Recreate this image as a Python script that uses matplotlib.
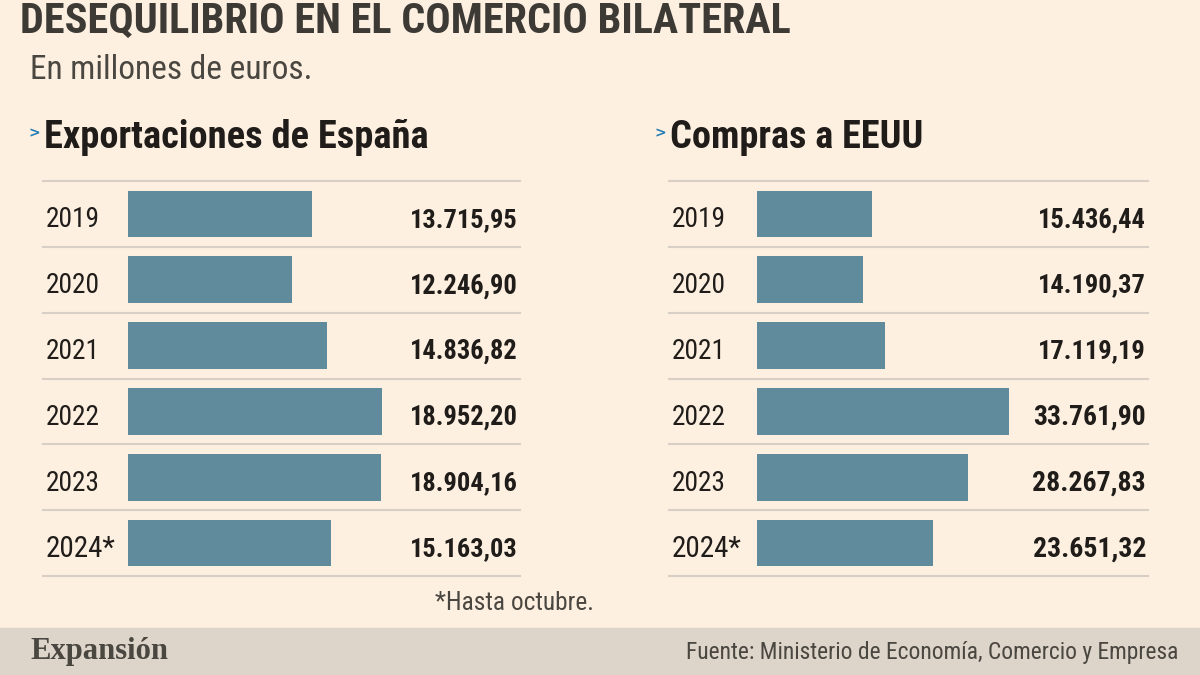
import matplotlib.pyplot as plt
from matplotlib.lines import Line2D
from matplotlib import font_manager

# data
years = ["2019", "2020", "2021", "2022", "2023", "2024*"]
exportaciones = [13715.95, 12246.90, 14836.82, 18952.20, 18904.16, 15163.03]
compras = [15436.44, 14190.37, 17119.19, 33761.90, 28267.83, 23651.32]


def fmt_es(v):
    s = f"{v:,.2f}"
    return s.replace(",", "X").replace(".", ",").replace("X", ".")


names = {f.name for f in font_manager.fontManager.ttflist}
narrow_opts = [n for n in ["Liberation Sans Narrow", "DejaVu Sans Condensed",
                           "Roboto Condensed", "Open Sans Condensed", "Noto Sans Condensed"]
               if n in names]
NARROW = narrow_opts[0] if narrow_opts else ("Roboto" if "Roboto" in names else "DejaVu Sans")
BODY = "Roboto" if "Roboto" in names else "DejaVu Sans"

BG = "#fdf0e1"
FOOT = "#ddd4ca"
BAR = "#5f8b9d"
DARK = "#1f1c19"
GREY = "#4a4640"
SEP = "#d8d0c6"
BLUE = "#1f7bb5"

W, H = 1200, 675
fig = plt.figure(figsize=(12, 6.75), dpi=100, facecolor=BG)
renderer = fig.canvas.get_renderer()


def fx(px):
    return px / W


def fy(py):
    return 1 - py / H


def fit(t, width_px):
    # shrink/grow the font so the text spans the width seen in the picture
    w = t.get_window_extent(renderer).width
    t.set_fontsize(t.get_fontsize() * width_px / w)
    return t


# header
fit(fig.text(fx(20), fy(33), "DESEQUILIBRIO EN EL COMERCIO BILATERAL", family=NARROW,
             weight="bold", fontsize=30, color="#3d3a35", ha="left", va="baseline"), 770)
fit(fig.text(fx(30), fy(70), "En millones de euros.", family=NARROW, weight="normal",
             fontsize=19, color=GREY, ha="left", va="center"), 283)

# footer band
fig.patches.append(plt.Rectangle((0, 0), 1, fy(628), transform=fig.transFigure,
                                 color=FOOT, zorder=0))
fit(fig.text(fx(30), fy(652), "Expansión", family="Liberation Serif", weight="bold",
             fontsize=21, color=GREY, ha="left", va="center"), 138)
fit(fig.text(fx(1178), fy(652), "Fuente: Ministerio de Economía, Comercio y Empresa",
             family=NARROW, weight="normal", fontsize=15, color=GREY, ha="right",
             va="center"), 493)
fit(fig.text(fx(514), fy(603), "*Hasta octubre.", family=NARROW, weight="normal",
             fontsize=15, color=GREY, ha="center", va="center"), 159)

top, bottom = 181, 576
panels = [
    ("Exportaciones de España", exportaciones, 128, 520, 43, 28, 254, 384),
    ("Compras a EEUU", compras, 757, 1148, 669, 654, 251.5, 254),
]

for title, vals, x0, x1, lx, ax_title, maxw, title_w in panels:
    ax = fig.add_axes([fx(x0), fy(bottom), fx(x1 - x0), (bottom - top) / H])
    ax.set_facecolor("none")
    xmax = max(vals) * (x1 - x0) / maxw
    ax.set_xlim(0, xmax)
    ax.set_ylim(len(years) - 0.5, -0.5)
    ax.barh(range(len(years)), vals, height=0.71, color=BAR)
    ax.axis("off")

    tr = ax.get_yaxis_transform()
    lfrac = (lx - x0) / (x1 - x0)
    for i in range(len(years) + 1):
        ax.add_line(Line2D([lfrac, 1.0], [i - 0.5, i - 0.5], color=SEP, lw=1.5,
                           transform=tr, clip_on=False))
    for i, (yr, v) in enumerate(zip(years, vals)):
        t = ax.text(lfrac + 3 / (x1 - x0), i + 0.09, yr, transform=tr,
                    family=NARROW, weight="normal", fontsize=19, color=DARK,
                    ha="left", va="center")
        fit(t, 54 if "*" not in yr else 70)
        t = ax.text(1 - 2 / (x1 - x0), i + 0.09, fmt_es(v), transform=tr,
                    family=NARROW, weight="bold", fontsize=19, color=DARK,
                    ha="right", va="center")
        fit(t, 108 if v < 20000 else 113)

    fig.text(fx(ax_title), fy(133), ">", family="DejaVu Sans", weight="bold",
             fontsize=10, color=BLUE, ha="left", va="center")
    fit(fig.text(fx(ax_title + 16), fy(138), title, family=NARROW, weight="bold",
                 fontsize=26, color=DARK, ha="left", va="center"), title_w)

fig.savefig("out.png", dpi=100, facecolor=BG)
